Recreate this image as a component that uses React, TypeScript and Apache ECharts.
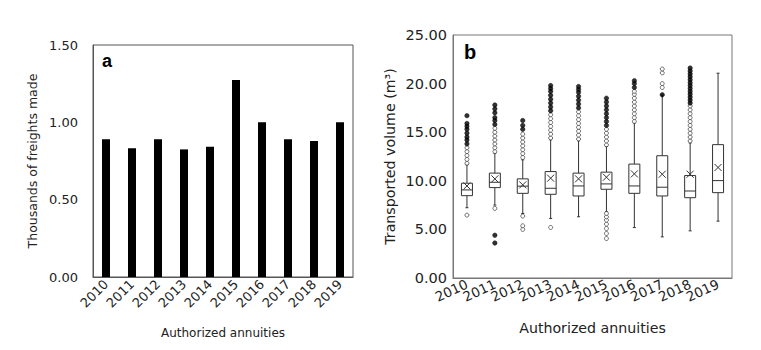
import React, { useEffect, useRef } from "react";
import * as echarts from "echarts";

const years = ["2010", "2011", "2012", "2013", "2014", "2015", "2016", "2017", "2018", "2019"];
const freights = [0.89, 0.832, 0.89, 0.825, 0.842, 1.273, 1.0, 0.89, 0.879, 1.0];

const boxMin = [7.23, 7.5, 6.64, 6.13, 6.3, 6.8, 5.19, 4.23, 4.85, 5.85];
const boxQ1 = [8.47, 9.3, 8.71, 8.61, 8.44, 9.13, 8.71, 8.44, 8.26, 8.78];
const boxMed = [9.06, 9.85, 9.45, 9.23, 9.47, 9.68, 9.47, 9.34, 8.95, 10.02];
const boxQ3 = [9.75, 10.79, 10.2, 10.95, 10.79, 10.89, 11.72, 12.58, 10.54, 13.72];
const boxMax = [11.65, 12.85, 12.16, 14.23, 14.13, 13.54, 15.96, 18.82, 13.9, 21.07];
const boxMean = [9.47, 10.2, 9.58, 10.27, 10.2, 10.37, 10.71, 10.68, 10.68, 11.37];

const openOutliers: number[][] = [
  [6.47, 11.8, 12.2, 12.6, 13.0, 13.4],
  [7.16, 13.0, 13.4, 13.8, 14.2, 14.6, 15.0, 15.4],
  [5.0, 5.37, 6.37, 12.4, 12.8, 13.2, 13.6, 14.0, 14.4, 14.8],
  [5.2, 14.4, 14.8, 15.2, 15.6, 16.0, 16.4, 16.8],
  [14.3, 14.7, 15.1, 15.5, 15.9, 16.3, 16.7, 17.1],
  [4.06, 4.58, 5.09, 5.54, 5.95, 6.29, 6.64, 13.7, 14.1, 14.5, 14.9, 15.3],
  [16.1, 16.5, 16.9, 17.3, 17.7, 18.1, 18.5, 18.9, 19.2],
  [19.6, 20.0, 21.1, 21.5],
  [14.1, 14.5, 14.9, 15.3, 15.7, 16.1, 16.5, 16.9, 17.3, 17.7],
  [],
];
const filledOutliers: number[][] = [
  [13.8, 14.2, 14.5, 14.9, 15.3, 15.6, 15.9, 16.7],
  [3.6, 4.4, 15.8, 16.2, 16.5, 17.0, 17.4, 17.8],
  [15.3, 15.7, 16.2],
  [17.2, 17.6, 18.0, 18.4, 18.8, 19.2, 19.5, 19.8],
  [17.5, 17.9, 18.3, 18.7, 19.1, 19.4, 19.7],
  [15.7, 16.1, 16.5, 16.9, 17.3, 17.7, 18.1, 18.5],
  [19.6, 20.0, 20.3],
  [18.85],
  [18.0, 18.3, 18.6, 18.9, 19.2, 19.5, 19.8, 20.1, 20.4, 20.7, 21.0, 21.3, 21.6],
  [],
];

const FONT = "DejaVu Sans";

export default function App() {
  const ref = useRef<HTMLDivElement>(null);
  useEffect(() => {
    document.body.style.margin = "0";
    const chart = echarts.init(ref.current!, null, { renderer: "svg" });
    const boxData = years.map((_, i) => [i, boxMin[i], boxQ1[i], boxMed[i], boxQ3[i], boxMax[i], boxMean[i]]);
    const openData: number[][] = [];
    const filledData: number[][] = [];
    openOutliers.forEach((arr, i) => arr.forEach((v) => openData.push([i, v])));
    filledOutliers.forEach((arr, i) => arr.forEach((v) => filledData.push([i, v])));

    const lineStyle = { stroke: "#333", lineWidth: 1, fill: null };

    chart.setOption({
      animation: false,
      textStyle: { fontFamily: FONT },
      grid: [
        { left: 93, top: 45, width: 260, height: 232, show: true, borderColor: "#555", borderWidth: 1 },
        { left: 453, top: 35, width: 279, height: 243, show: true, borderColor: "#777", borderWidth: 1 },
      ],
      xAxis: [
        {
          gridIndex: 0,
          type: "category",
          data: years,
          axisLine: { lineStyle: { color: "#555" } },
          axisTick: { show: false },
          axisLabel: { rotate: 45, interval: 0, color: "#222", fontSize: 13, fontFamily: FONT, margin: 5 },
          name: "Authorized annuities",
          nameLocation: "middle",
          nameGap: 50,
          nameTextStyle: { color: "#222", fontSize: 12, fontFamily: FONT },
        },
        {
          gridIndex: 1,
          type: "category",
          data: years,
          axisLine: { lineStyle: { color: "#777" } },
          axisTick: { show: false },
          axisLabel: { rotate: 25, interval: 0, color: "#222", fontSize: 13.5, fontFamily: FONT, margin: 5 },
          name: "Authorized annuities",
          nameLocation: "middle",
          nameGap: 43,
          nameTextStyle: { color: "#222", fontSize: 14.2, fontFamily: FONT },
        },
      ],
      yAxis: [
        {
          gridIndex: 0,
          type: "value",
          min: 0,
          max: 1.5,
          interval: 0.5,
          axisLine: { show: true, lineStyle: { color: "#555" } },
          axisTick: { show: false },
          splitLine: { show: false },
          axisLabel: { color: "#222", fontSize: 13, fontFamily: FONT, margin: 15, formatter: (v: number) => v.toFixed(2) },
          name: "Thousands of freights made",
          nameLocation: "middle",
          nameGap: 54,
          nameTextStyle: { color: "#222", fontSize: 12.5, fontFamily: FONT },
        },
        {
          gridIndex: 1,
          type: "value",
          min: 0,
          max: 25,
          interval: 5,
          axisLine: { show: true, lineStyle: { color: "#777" } },
          axisTick: { show: false },
          splitLine: { show: false },
          axisLabel: { color: "#222", fontSize: 14.5, fontFamily: FONT, margin: 6, formatter: (v: number) => v.toFixed(2) },
          name: "Transported volume (m³)",
          nameLocation: "middle",
          nameGap: 56,
          nameTextStyle: { color: "#222", fontSize: 14.2, fontFamily: FONT },
        },
      ],
      graphic: [
        { type: "text", left: 102, top: 52, style: { text: "a", font: "bold 18px 'Liberation Sans'", fill: "#000" } },
        { type: "text", left: 464, top: 42, style: { text: "b", font: "bold 20px 'Liberation Sans'", fill: "#000" } },
      ],
      series: [
        {
          type: "bar",
          xAxisIndex: 0,
          yAxisIndex: 0,
          data: freights,
          barWidth: 8,
          itemStyle: { color: "#000" },
        },
        {
          type: "custom",
          xAxisIndex: 1,
          yAxisIndex: 1,
          data: boxData,
          renderItem: (params: any, api: any) => {
            const x = api.value(0);
            const pMin = api.coord([x, api.value(1)]);
            const pQ1 = api.coord([x, api.value(2)]);
            const pMed = api.coord([x, api.value(3)]);
            const pQ3 = api.coord([x, api.value(4)]);
            const pMax = api.coord([x, api.value(5)]);
            const pMean = api.coord([x, api.value(6)]);
            const cx = pMin[0];
            const hw = 5.5;
            const cap = 1.5;
            const xs = 3.5;
            return {
              type: "group",
              children: [
                { type: "line", shape: { x1: cx, y1: pQ1[1], x2: cx, y2: pMin[1] }, style: lineStyle },
                { type: "line", shape: { x1: cx, y1: pQ3[1], x2: cx, y2: pMax[1] }, style: lineStyle },
                { type: "line", shape: { x1: cx - cap, y1: pMin[1], x2: cx + cap, y2: pMin[1] }, style: lineStyle },
                { type: "line", shape: { x1: cx - cap, y1: pMax[1], x2: cx + cap, y2: pMax[1] }, style: lineStyle },
                {
                  type: "rect",
                  shape: { x: cx - hw, y: pQ3[1], width: hw * 2, height: pQ1[1] - pQ3[1] },
                  style: { stroke: "#333", lineWidth: 1, fill: "#fff" },
                },
                { type: "line", shape: { x1: cx - hw, y1: pMed[1], x2: cx + hw, y2: pMed[1] }, style: lineStyle },
                { type: "line", shape: { x1: cx - xs, y1: pMean[1] - xs, x2: cx + xs, y2: pMean[1] + xs }, style: lineStyle },
                { type: "line", shape: { x1: cx - xs, y1: pMean[1] + xs, x2: cx + xs, y2: pMean[1] - xs }, style: lineStyle },
              ],
            };
          },
        },
        {
          type: "scatter",
          xAxisIndex: 1,
          yAxisIndex: 1,
          data: openData,
          symbol: "circle",
          symbolSize: 4,
          itemStyle: { color: "#fff", borderColor: "#222", borderWidth: 0.8 },
        },
        {
          type: "scatter",
          xAxisIndex: 1,
          yAxisIndex: 1,
          data: filledData,
          symbol: "circle",
          symbolSize: 4.5,
          itemStyle: { color: "#000", borderColor: "#000", borderWidth: 0.5 },
        },
      ],
    });
    return () => chart.dispose();
  }, []);
  return <div ref={ref} style={{ width: 761, height: 350 }} />;
}
